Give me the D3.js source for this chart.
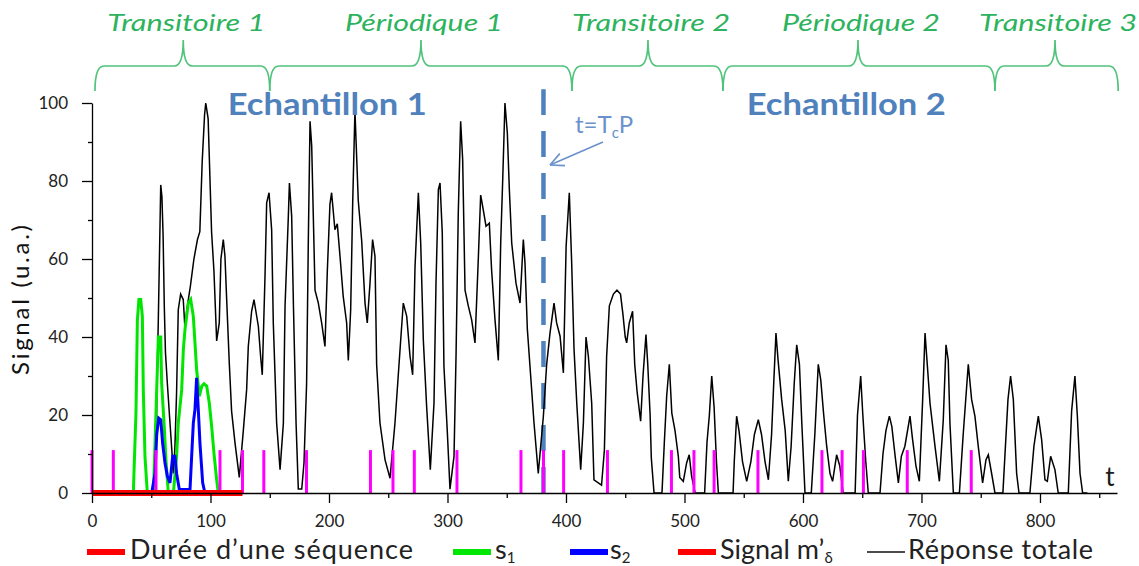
<!DOCTYPE html>
<html><head><meta charset="utf-8">
<script src="https://cdn.jsdelivr.net/npm/d3@7"></script>
<style>
body{margin:0;background:#fff}
svg{display:block}
text{font-family:Lato,'Open Sans',sans-serif}
</style>
</head><body><svg id="c" width="1139" height="566"></svg>
<script>
// ---------- data ----------
const xMajorTicks = [0,100,200,300,400,500,600,700,800];
const xMinorTicks = [50,150,250,350,450,550,650,750,850];
const yMajorTicks = [0,20,40,60,80,100];
const yMinorTicks = [10,30,50,70,90];

const sequenceDuration = [0, 127];          // red bar "Durée d'une séquence"
const pulseTimes = [0,18,54,108,127,145,181,235,254,272,308,362,381,398,435,489,508,525,562,616,633,651,688,742];
const pulseHeight = 11;

const s1 = [[0,0],[34.9,0],[35.4,5],[37.1,20.5],[38.3,44.4],[39.6,49.6],[41.1,49.6],[42.5,45.3],[43.3,26.5],[44.7,9.4],[46.7,0],
  [51.8,0],[53.2,12.8],[54.6,26.5],[56,40],[58,40],[58.8,28],[60.8,17.9],[62.4,8.5],[64.4,0],[68.7,0],[71.4,9.4],[72.8,17.9],
  [75.7,26.5],[77.1,36.8],[78.5,42],[81.3,48.7],[83.3,49.6],[85.5,45.3],[86.9,38.5],[88.3,31.6],[90.6,24.8],[92.6,27.4],[94.5,28],
  [96.8,27.4],[99,23],[101,17],[102.9,10.3],[105.2,3.4],[106.6,0],[120,0]];

const s2 = [[0,0],[50.4,0],[53.2,5],[54.6,15],[56.3,19.2],[58,18.8],[59.6,12.8],[61.6,7.7],[63.6,4.3],[65.8,2.6],[68.1,9.4],
  [70,9.4],[71.4,5],[73.7,0.9],[82.7,0.9],[85.5,17.9],[86.9,21.4],[88.3,29.5],[89.7,21.4],[91.1,12.8],[93.4,2.6],[95.3,0],[110,0]];

const totalResponse = [[0,0],[53,0],[54,10],[55,30],[56,45],[57,62],[58,79],[59,76],[60,66],[61,48],[62,36],[63.6,28],[65.8,18],[68.7,5],
  [70,12],[71.4,26],[72.8,47],[74.8,51],[77,49.6],[78.5,42],[80,47],[83,53],[86,60],[89,65],[91,67],[93,85],[95,97],[96,100],[98,96],
  [100.9,67],[102.9,57],[105.2,39],[107.4,43.6],[108.8,60],[110.8,65],[112.2,60.7],[113.6,50],[115.9,33],[117.8,21],[120.7,12.8],
  [124.3,4],[127.7,16],[130.5,26.5],[131.9,37.6],[134.7,46.6],[136.7,49.6],[140.4,42.7],[142.3,35],[143.7,30.3],[146,55.6],[147.4,74.4],
  [149.4,77],[151.6,67.5],[153,43.6],[155.8,18],[158.7,6],[161.5,17.9],[162.9,47.9],[165.7,71],[166.6,79.5],[168.5,71],[170,48],
  [172.2,18],[174.1,1],[177,1],[178.9,7.7],[181.1,28],[182.6,65.8],[184,95.3],[185.4,89],[188.2,52],[191,48.7],[193.8,43.6],[196.6,37.6],
  [198.6,57],[200.8,74],[202.2,77],[205,67.5],[207,69],[209.3,60.7],[212,50.4],[214.9,43.6],[216.3,34],[218.3,47],[220,74.4],[221.9,98],
  [224.7,75],[227.6,64.6],[230.4,48.7],[232.3,43.6],[234.6,53.8],[236.8,65],[238.8,60.7],[240.2,33],[243,18],[247.3,8.5],[251.5,3.8],
  [255.7,18],[260,37],[262.7,48.7],[265.6,45.3],[268.4,35],[270.6,30.3],[272.6,58],[275.4,77],[277.4,64.1],[279.6,39.3],[282.4,22.2],
  [285.5,6],[288.6,23],[290.3,53.8],[292.3,77.8],[293.7,79.5],[295.6,66.7],[297,32.5],[299.9,15.4],[302.1,1],[305.5,9.4],[307.2,35],
  [309.1,71.8],[311.1,95.3],[312.8,85.5],[314.8,52],[317.6,47.9],[320.4,44.4],[323.2,38.5],[326,60],[328,76.4],[330.2,72.6],[332.5,68.4],
  [335.3,69.2],[337.2,57.3],[340.1,44.4],[342.9,34],[344.9,64.1],[346.6,80.3],[348.5,100],[350.5,92.3],[352.2,77.8],[354.2,64.1],
  [357.8,53.8],[361.2,48.7],[364,65],[365.4,59],[367.4,42],[370.2,30],[373,18],[376.6,5],[380.9,19.6],[383.7,33],[386.5,41],[389.9,48.7],
  [392.1,43.6],[395,40.2],[397.8,30.8],[400.1,63.2],[402.8,77],[404.8,59],[406.8,36.8],[409.1,23],[412.4,6],[414.7,18],[416.9,40],
  [418.9,35],[421.7,23],[423.6,3.4],[430,2],[432.4,11],[434.3,35],[436.6,48],[440,51],[443,52],[446,51],[448,46],[450,40],[451.2,38.5],
  [453.4,43.6],[456.2,46.6],[458,33],[460,26],[463,18.4],[465,30],[467.5,40.6],[469,33],[471,20],[472,9],[474.3,0],
  [481,0],[483,13],[485,25],[487.2,33],[489.3,20.5],[492,16],[494.8,9.4],[496,4],[499,3],[501.8,7.7],[504,9.8],[506,4.3],[509,0],
  [517,0],[519,13],[521,20],[523,30],[525,22],[527,8],[528.6,0],[541,0],[542,8],[544,19.7],[546,16],[549,8],[552.5,3],[556,8],[559,15],
  [562.3,18.8],[565,15],[568,8],[570.8,3.4],[573.5,15],[575.3,28],[577.2,41],[579,34],[582,24],[585,16],[587.6,3],[590,12],[592.6,28],
  [594.7,38],[597,33],[599,18],[601.7,0],[607,0],[610,15],[612.9,33],[615,29],[617.5,20],[620,12],[622.8,5],[625,3],[628.4,9.8],[631,7],
  [633.9,0],[644,0],[646,20],[648.7,30],[650.5,20],[653,8],[655.1,0],[665,0],[667.5,10],[670,16],[672.9,19.7],[675,17],[677.8,9.4],
  [680.5,2.6],[683,9.4],[686,12],[690.3,19.7],[692.5,13.7],[695.4,6.8],[698.2,3],[701,24],[703,41],[705,32.5],[707.2,23],[711.4,12],
  [715.1,3],[718.4,18.8],[720.7,38],[722.6,34],[724,18],[726.9,0],[732,0],[735.2,15],[739.5,33],[742.3,24],[745.1,19.7],[747.9,12],
  [751.6,2.6],[754.4,8.5],[756.4,9.8],[759.2,5],[762,0],[768.7,0],[773,24],[775.2,30],[777.5,24],[780.3,5],[782.3,0],[791.5,0],
  [794.9,12],[798.6,19.7],[801.4,13.7],[804.2,3.4],[806.2,3],[809,9.4],[812.6,6],[815.4,0],[823.9,0],[826.7,21],[829.5,30],[831.5,20],
  [833.8,5],[836,0],[840,0]];

const phaseLabels = ["Transitoire 1","Périodique 1","Transitoire 2","Périodique 2","Transitoire 3"];
const phaseBounds = [2.5, 150, 405, 532.5, 762, 866];
const phaseTips = [77, 277.6, 469.2, 646.4, 812.7];
const sampleLabels = ["Echantillon 1","Echantillon 2"];
const sampleCenters = [198.5, 636.5];
const tcpTime = 381;

const legendItems = [
  {label:"Durée d’une séquence", color:"#ff0000", w:6},
  {label:"s", sub:"1", color:"#00e600", w:6},
  {label:"s", sub:"2", color:"#0000ff", w:6},
  {label:"Signal m’", sub:"δ", color:"#ff0000", w:6},
  {label:"Réponse totale", color:"#111", w:1.5}
];

// ---------- scales ----------
const svg = d3.select("#c");
const x = d3.scaleLinear().domain([0,865]).range([92,1117]);
const y = d3.scaleLinear().domain([0,100]).range([493,103]);

// dashed t = TcP line
svg.append("line")
  .attr("x1", x(tcpTime)).attr("x2", x(tcpTime))
  .attr("y1", y(0)).attr("y2", y(103.5))
  .attr("stroke", "#4f81bd").attr("stroke-width", 4.5)
  .attr("stroke-dasharray", "26,16");

// ---------- series ----------
const line = d3.line().x(d => x(d[0])).y(d => y(d[1])).curve(d3.curveLinear);

svg.append("path").datum(totalResponse).attr("d", line)
  .attr("fill","none").attr("stroke","#000").attr("stroke-width",1.5).attr("stroke-linejoin","miter");
svg.append("path").datum(s1).attr("d", line)
  .attr("fill","none").attr("stroke","#00e600").attr("stroke-width",3);
svg.append("path").datum(s2).attr("d", line)
  .attr("fill","none").attr("stroke","#0000ff").attr("stroke-width",3);

// pulses
svg.append("g").selectAll("line").data(pulseTimes).join("line")
  .attr("x1", d => x(d)).attr("x2", d => x(d))
  .attr("y1", y(0)).attr("y2", y(pulseHeight))
  .attr("stroke", "#ff00ff").attr("stroke-width", 3);

// sequence duration
svg.append("line")
  .attr("x1", x(sequenceDuration[0])).attr("x2", x(sequenceDuration[1]))
  .attr("y1", y(0)).attr("y2", y(0))
  .attr("stroke", "#ff0000").attr("stroke-width", 6);

// ---------- axes ----------
const fontTick = "17px";
svg.append("g").attr("transform", `translate(0,${y(0)})`)
  .call(d3.axisBottom(x).tickValues(xMajorTicks).tickSize(10).tickSizeOuter(0).tickPadding(12));
svg.append("g").attr("transform", `translate(0,${y(0)})`)
  .call(d3.axisBottom(x).tickValues(xMinorTicks).tickSize(5).tickFormat(""))
  .select(".domain").remove();
svg.append("g").attr("transform", `translate(${x(0)},0)`)
  .call(d3.axisLeft(y).tickValues(yMajorTicks).tickSize(10).tickSizeOuter(0).tickPadding(14));
svg.append("g").attr("transform", `translate(${x(0)},0)`)
  .call(d3.axisLeft(y).tickValues(yMinorTicks).tickSize(4).tickFormat(""))
  .select(".domain").remove();
svg.selectAll(".tick line, .domain").attr("stroke","#000").attr("stroke-width",1.3);
svg.selectAll(".tick text").attr("font-family","Lato, sans-serif").attr("font-size",fontTick).attr("fill","#222");

// axis titles
svg.append("text").attr("transform","translate(29,300) rotate(-90)")
  .attr("text-anchor","middle").attr("font-size",24).attr("fill","#111")
  .attr("textLength",150).text("Signal (u.a.)");
svg.append("text").attr("x", 1110).attr("y", 486).attr("text-anchor","middle")
  .attr("font-size",26).attr("fill","#1c1c1c").text("t");

// ---------- braces ----------
const yH = 66, yEnd = 91, yTip = 40, r = 9;
function brace(x0, x1, tip){
  return `M${x0},${yEnd} Q${x0},${yH} ${x0+r},${yH} L${tip-r},${yH} Q${tip},${yH} ${tip},${yTip}`+
         ` Q${tip},${yH} ${tip+r},${yH} L${x1-r},${yH} Q${x1},${yH} ${x1},${yEnd}`;
}
const gb = svg.append("g");
phaseLabels.forEach((lab,i) => {
  gb.append("path").attr("d", brace(x(phaseBounds[i]), x(phaseBounds[i+1]), x(phaseTips[i])))
    .attr("fill","none").attr("stroke","#4fc37a").attr("stroke-width",1.7);
  gb.append("text").attr("x", x(phaseTips[i]) + 3).attr("y", 31)
    .attr("text-anchor","middle").attr("font-style","italic").attr("font-size",24)
    .attr("fill","#2db35d").attr("textLength",158).attr("lengthAdjust","spacingAndGlyphs").text(lab);
});

// sample labels
sampleLabels.forEach((lab,i) => {
  svg.append("text").attr("x", x(sampleCenters[i])).attr("y", 115)
    .attr("text-anchor","middle").attr("font-weight","bold").attr("font-size",31)
    .attr("fill","#4f81bd").attr("textLength",199).attr("lengthAdjust","spacingAndGlyphs").text(lab);
});

// t = TcP annotation
const ann = svg.append("text").attr("x", x(407.6)).attr("y", y(92.3))
  .attr("font-size",24).attr("fill","#6a91cc");
ann.append("tspan").text("t=T");
ann.append("tspan").attr("font-size",15).attr("dy",5).text("c");
ann.append("tspan").attr("dy",-5).text("P");
const a0 = [x(431.2), y(90)], a1 = [x(386.5), y(84.1)];
svg.append("line").attr("x1",a0[0]).attr("y1",a0[1]).attr("x2",a1[0]).attr("y2",a1[1])
  .attr("stroke","#6a91cc").attr("stroke-width",1.6);
const ang = Math.atan2(a0[1]-a1[1], a0[0]-a1[0]);
[0.45,-0.45].forEach(da => {
  svg.append("line").attr("x1",a1[0]).attr("y1",a1[1])
    .attr("x2",a1[0]+15*Math.cos(ang+da)).attr("y2",a1[1]+15*Math.sin(ang+da))
    .attr("stroke","#6a91cc").attr("stroke-width",1.6);
});

// ---------- legend ----------
const legendPos = [{lx:87,tx:130,tl:283},{lx:453,tx:495},{lx:570,tx:610},{lx:678,tx:720},{lx:867,tx:908,tl:185}];
const gl = svg.append("g");
legendItems.forEach((it,i) => {
  const p = legendPos[i];
  gl.append("line").attr("x1",p.lx).attr("x2",p.lx+38).attr("y1",552).attr("y2",552)
    .attr("stroke",it.color).attr("stroke-width",it.w);
  const t = gl.append("text").attr("x",p.tx).attr("y",559).attr("font-size",27).attr("fill","#222");
  if (p.tl) t.attr("textLength",p.tl);
  t.append("tspan").text(it.label);
  if (it.sub) t.append("tspan").attr("font-size",15).attr("dy",4).text(it.sub);
});
</script></body></html>
